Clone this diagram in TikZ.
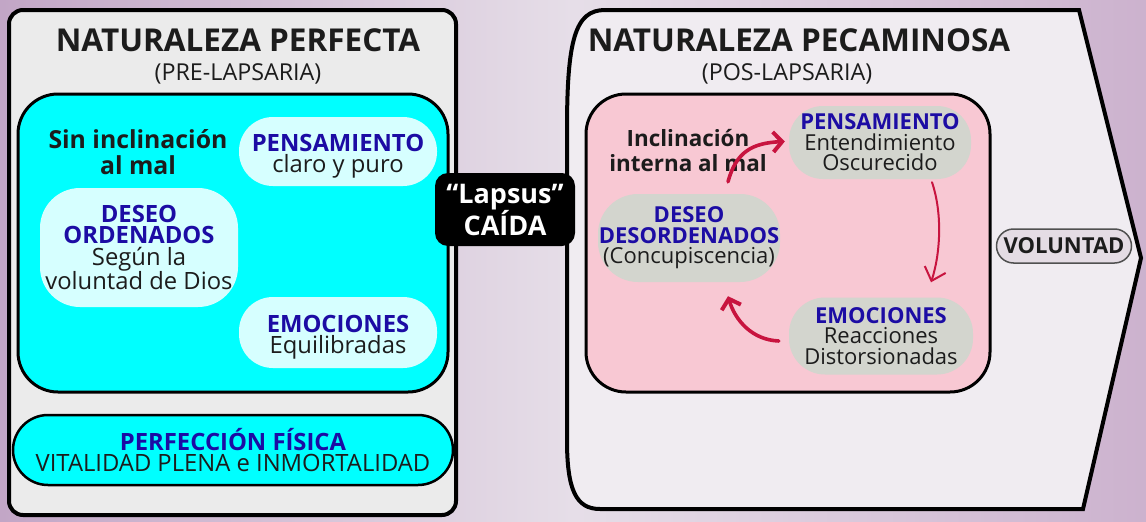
\documentclass[tikz,border=0pt]{standalone}
\usepackage{fontspec}
\setmainfont{Open Sans}
\usetikzlibrary{arrows.meta,calc}
\definecolor{txt}{HTML}{1C1C1C}
\definecolor{blu}{HTML}{1C0CA4}
\definecolor{cyanF}{HTML}{00FFFF}
\definecolor{cyanL}{HTML}{D6FFFF}
\definecolor{grayP}{HTML}{EBEBEB}
\definecolor{panelR}{HTML}{F0ECF1}
\definecolor{pinkF}{HTML}{F8C8D3}
\definecolor{grayB}{HTML}{D3D5CE}
\definecolor{crim}{HTML}{C8143F}
\definecolor{volF}{HTML}{E4DCE4}
\definecolor{volD}{HTML}{505050}
\definecolor{bgL}{HTML}{C2A6C6}
\definecolor{bgM}{HTML}{E6DEE8}
\definecolor{bgR}{HTML}{CCB2CE}
\newcommand\myfs[2]{\fontsize{#1}{#2}\selectfont}
\newcommand\myhd[1]{{\color{blu}\bfseries #1}}
\newcommand\mytop[1]{\rule{0pt}{#1pt}}
\begin{document}
\begin{tikzpicture}[x=1pt,y=-1pt,
  ttl/.style={font=\myfs{31.5}{34}\bfseries, text=txt, inner sep=0},
  subt/.style={font=\myfs{23.3}{24}, text=txt, inner sep=0},
  panelbox/.style={draw, line width=4, fill=grayP, rounded corners=14, inner sep=0},
  innerbox/.style={draw, line width=3, rounded corners=40, inner sep=0},
  bubL/.style={fill=cyanL, rounded corners=34, inner sep=0, align=center, text=txt, font=\myfs{23.8}{21.5}},
  bubR/.style={fill=grayB, rounded corners=34, inner sep=0, align=center, text=txt, font=\myfs{22}{20.5}},
  note/.style={inner sep=0, align=center, text=txt, font=\myfs{24.8}{26}\bfseries},
  thickarr/.style={draw=crim, line width=3.6, line cap=round, -{Straight Barb[length=9,width=20,line width=4]}},
  thinarr/.style={draw=crim, line width=2, line cap=round, -{Straight Barb[length=12,width=22,line width=2]}}
]
\useasboundingbox (0,0) rectangle (1146,522);
\shade[left color=bgL, right color=bgR, middle color=bgM] (0,0) rectangle (1146,522);

% left panel
\node[panelbox, minimum width=447, minimum height=505] (panelL) at (232.5,262.5) {};
\node[ttl, anchor=base] (titleL) at (238,51) {NATURALEZA PERFECTA};
\node[subt, anchor=base] (subL) at (238,80) {(PRE-LAPSARIA)};
\node[innerbox, fill=cyanF, minimum width=430, minimum height=298] (cyanbox) at (233,243) {};
\node[note] (sinincl) at (138,152) {Sin inclinación\\al mal};
\node[bubL, minimum width=198, minimum height=69] (pensL) at (338,151.5) {\mytop{27}\myhd{PENSAMIENTO}\\claro y puro};
\node[bubL, minimum width=198, minimum height=119, rounded corners=40] (desL) at (139,247.5) {\myhd{DESEO}\\\myhd{ORDENADOS}\\Según la\\voluntad de Dios};
\node[bubL, minimum width=198, minimum height=71] (emoL) at (338,332.5) {\mytop{27}\myhd{EMOCIONES}\\Equilibradas};
\node[draw, line width=2.5, fill=cyanF, rounded corners=35, minimum width=440, minimum height=70, inner sep=0, align=center, text=txt, font=\myfs{23.8}{21.5}] (fisica) at (233,450) {\myhd{PERFECCIÓN FÍSICA}\\VITALIDAD PLENA e INMORTALIDAD};

% right panel
\draw[line width=4, fill=panelR, line join=miter]
  (605,10) -- (1079,10) -- (1141,258) -- (1083,509) -- (600,509)
  .. controls (576,509) and (567,490) .. (567,440) -- (567,130)
  .. controls (567,40) and (575,10) .. (605,10) -- cycle;
\node[ttl, anchor=base] (titleR) at (799,51) {NATURALEZA PECAMINOSA};
\node[subt, anchor=base] (subR) at (787,80) {(POS-LAPSARIA)};
\node[innerbox, fill=pinkF, minimum width=404, minimum height=298] (pinkbox) at (788,243) {};
\node[note, font=\myfs{22.4}{25}\bfseries] (inclin) at (688,151) {Inclinación\\interna al mal};
\node[bubR, minimum width=182, minimum height=73] (pensR) at (880,142.5) {\myhd{PENSAMIENTO}\\Entendimiento\\Oscurecido};
\node[bubR, minimum width=182, minimum height=88, rounded corners=40] (desR) at (689,238) {\myhd{DESEO}\\\myhd{DESORDENADOS}\\(Concupiscencia)};
\node[bubR, minimum width=184, minimum height=77, rounded corners=36] (emoR) at (881,336) {\myhd{EMOCIONES}\\Reacciones\\Distorsionadas};
\node[draw=volD, line width=1.5, fill=volF, rounded corners=17, minimum width=135, minimum height=34, inner sep=0, text=txt, font=\myfs{22}{22}\bfseries] (vol) at (1064,246) {VOLUNTAD};

% lapsus
\node[fill=black, rounded corners=13, minimum width=140, minimum height=73, inner sep=0, align=center, text=white, font=\myfs{27}{32}\bfseries] (lapsus) at (505,209.5) {“Lapsus”\\CAÍDA};

% arrows
\draw[thickarr] ([xshift=39,yshift=12]desR.north) .. controls (736,152) and (752,143) .. ([xshift=-4,yshift=1]pensR.west);
\draw[thinarr] ([xshift=52,yshift=-3]pensR.south) .. controls (943,215) and (940,255) .. ([xshift=50,yshift=15]emoR.north);
\draw[thickarr] ([xshift=-10,yshift=-5]emoR.west) .. controls (752,340) and (735,320) .. ([xshift=39,yshift=-14]desR.south);
\end{tikzpicture}
\end{document}
